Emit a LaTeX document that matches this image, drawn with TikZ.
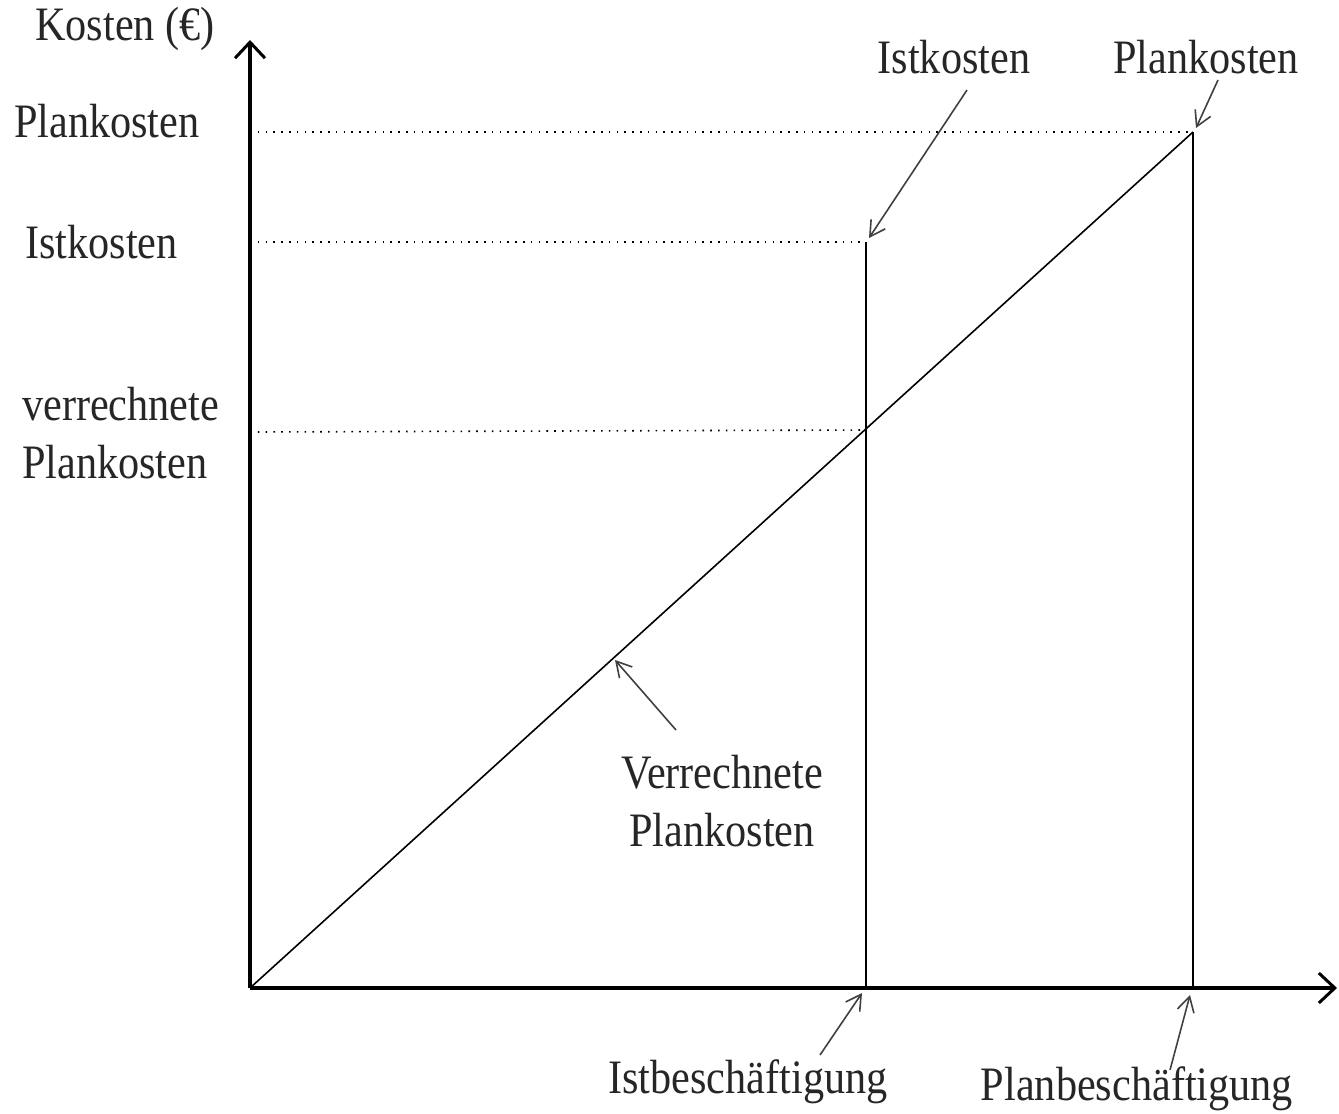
\documentclass[tikz,border=0pt]{standalone}
\usepackage{fontspec}
\setmainfont[FakeStretch=0.88]{Liberation Serif}
\usetikzlibrary{arrows.meta}
\begin{document}
\begin{tikzpicture}[x=1pt,y=-1pt,
  lab/.style={font=\fontsize{48}{58}\selectfont, text=black!85, inner sep=0pt},
  axis/.style={line width=3.5pt, -{Straight Barb[length=16pt,width=30pt,line width=3pt]}},
  curve/.style={line width=1.6pt},
  guide/.style={line width=1.6pt, dash pattern=on 1.6pt off 6.2pt},
  pointer/.style={line width=1.6pt, draw=black!75, -{Straight Barb[length=15pt,width=17pt,line width=1.6pt]}}
]
\useasboundingbox (0,0) rectangle (1339,1114);

% key points
\coordinate (O) at (250,988);
\coordinate (ytop) at (250,40);
\coordinate (xend) at (1337,988);
\coordinate (P) at (1193,132);
\coordinate (I) at (866,242);
\coordinate (V) at (866,430);
\coordinate (Ix) at (866,988);
\coordinate (Px) at (1193,988);
\coordinate (yP) at (250,132);
\coordinate (yI) at (250,242);
\coordinate (yV) at (250,432);

% guides
\draw[guide] (yP) -- (P);
\draw[guide] (yI) -- (I);
\draw[guide] (yV) -- (V);

% curves
\draw[curve] (O) -- (P);
\draw[curve] (Ix) -- (I);
\draw[curve] (Px) -- (P);

% axes
\draw[axis] (O) -- (ytop);
\draw[axis] (O) -- (xend);

% labels
\node[lab, anchor=base] (kosten) at (125,40) {Kosten (€)};
\node[lab, anchor=base west] (lP) at (14,137) {Plankosten};
\node[lab, anchor=base west] (lI) at (25,258) {Istkosten};
\node[lab, anchor=base west, align=left] (lV) at (22,478) {verrechnete\\Plankosten};
\node[lab, anchor=base] (tI) at (954,73) {Istkosten};
\node[lab, anchor=base] (tP) at (1206,73) {Plankosten};
\node[lab, anchor=base, align=center] (mV) at (722,846) {Verrechnete\\Plankosten};
\node[lab, anchor=base] (bI) at (748,1093) {Istbeschäftigung};
\node[lab, anchor=base] (bP) at (1137,1100) {Planbeschäftigung};

% pointer tails and heads
\coordinate (tIs) at (967,90);
\coordinate (tPs) at (1218,80);
\coordinate (mVs) at (676,730);
\coordinate (bIs) at (820,1055);
\coordinate (bPs) at (1170,1070);
\coordinate (tIe) at (869,238);
\coordinate (tPe) at (1196,128);
\coordinate (mVe) at (615,660);
\coordinate (bIe) at (862,993);
\coordinate (bPe) at (1190,995);

\draw[pointer] (tIs) -- (tIe);
\draw[pointer] (tPs) -- (tPe);
\draw[pointer] (mVs) -- (mVe);
\draw[pointer] (bIs) -- (bIe);
\draw[pointer] (bPs) -- (bPe);
\end{tikzpicture}
\end{document}
